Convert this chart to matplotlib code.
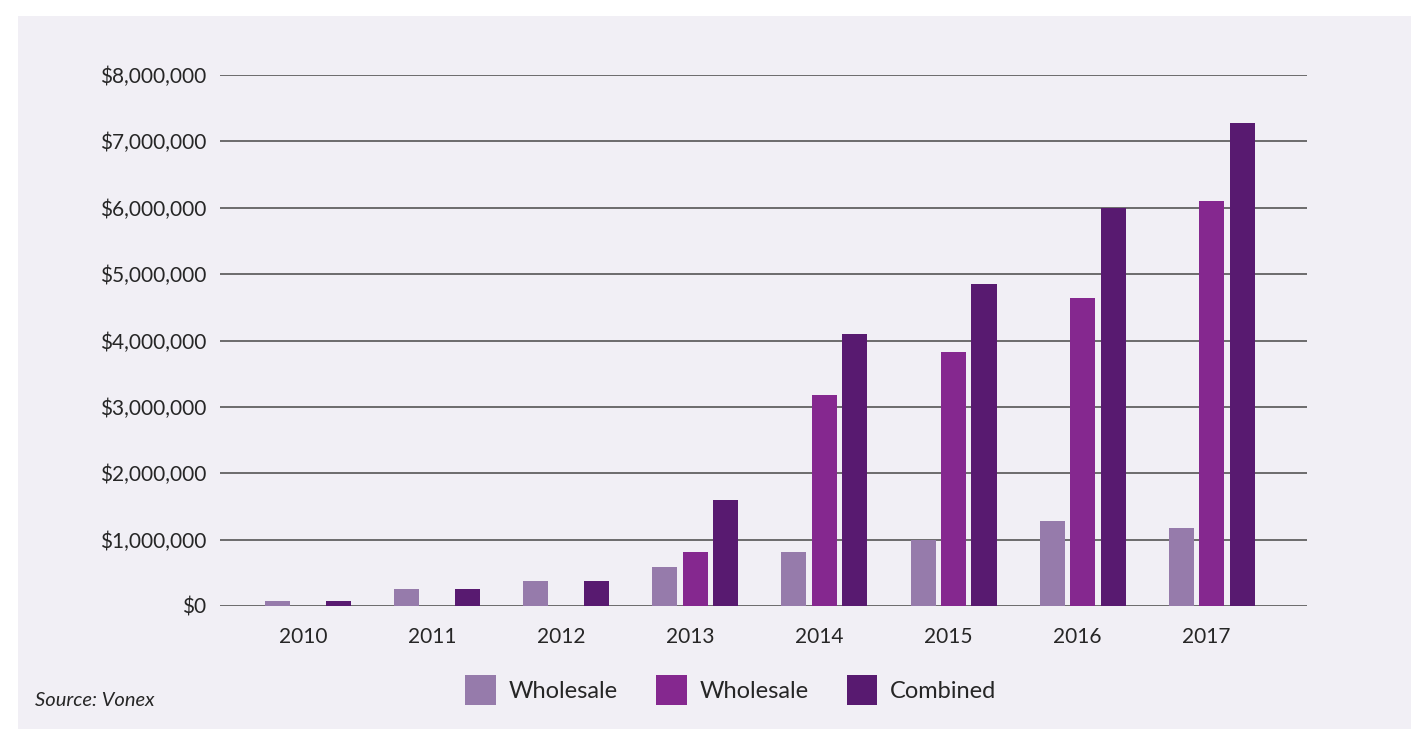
import matplotlib.pyplot as plt
from matplotlib.patches import Rectangle
from matplotlib.ticker import FuncFormatter

years = ['2010', '2011', '2012', '2013', '2014', '2015', '2016', '2017']
wholesale_a = [75000, 260000, 375000, 590000, 815000, 1000000, 1280000, 1180000]
wholesale_b = [0, 0, 0, 815000, 3180000, 3830000, 4640000, 6100000]
combined = [75000, 260000, 375000, 1600000, 4100000, 4850000, 6000000, 7270000]
series_labels = ['Wholesale', 'Wholesale', 'Combined']

col_light = '#967bab'
col_mid = '#85288f'
col_dark = '#581a70'
fondo = '#f1eff5'
texto = '#262626'

plt.rcParams['font.family'] = ['Lato', 'DejaVu Sans']

fig = plt.figure(figsize=(14.11, 7.29), dpi=100)
fig.patch.set_facecolor('white')
# panel lila de fondo
fig.patches.append(Rectangle((18 / 1411, 0), 1 - 18 / 1411, 1 - 16 / 729,
                             transform=fig.transFigure, facecolor=fondo,
                             edgecolor='none', zorder=-10))

ax = fig.add_axes([220 / 1411, 1 - 606 / 729, (1307 - 220) / 1411, (606 - 75) / 729])
ax.set_facecolor('none')

xpos = list(range(len(years)))
ancho = 0.194
paso = 0.236
ax.bar([x - paso for x in xpos], wholesale_a, width=ancho, color=col_light, label=series_labels[0], zorder=3)
ax.bar(xpos, wholesale_b, width=ancho, color=col_mid, label=series_labels[1], zorder=3)
ax.bar([x + paso for x in xpos], combined, width=ancho, color=col_dark, label=series_labels[2], zorder=3)

ax.set_ylim(0, 8000000)
ax.set_yticks(range(0, 8000001, 1000000))
ax.yaxis.set_major_formatter(FuncFormatter(lambda v, p: '${:,.0f}'.format(v)))
ax.set_xlim(-0.682, 7.738)
ax.set_xticks([x - 0.04 for x in xpos])
ax.set_xticklabels(years)

ax.grid(axis='y', color='#555555', linewidth=1.2, zorder=1)
for s in ax.spines.values():
    s.set_visible(False)
ax.tick_params(axis='both', length=0, labelsize=15, colors=texto)
ax.tick_params(axis='y', pad=10)
ax.tick_params(axis='x', pad=15)

fig.legend(loc='center', bbox_to_anchor=(731 / 1411, 1 - 690 / 729), ncol=3, frameon=False,
           fontsize=17, handlelength=1.3, handleheight=1.6, handletextpad=0.55,
           columnspacing=1.6, labelcolor=texto)

fig.text(35 / 1411, 1 - 701 / 729, 'Source: Vonex', style='italic', fontsize=14.5,
         color=texto, va='center', ha='left')

fig.savefig('out.png', dpi=100, facecolor=fig.get_facecolor())
